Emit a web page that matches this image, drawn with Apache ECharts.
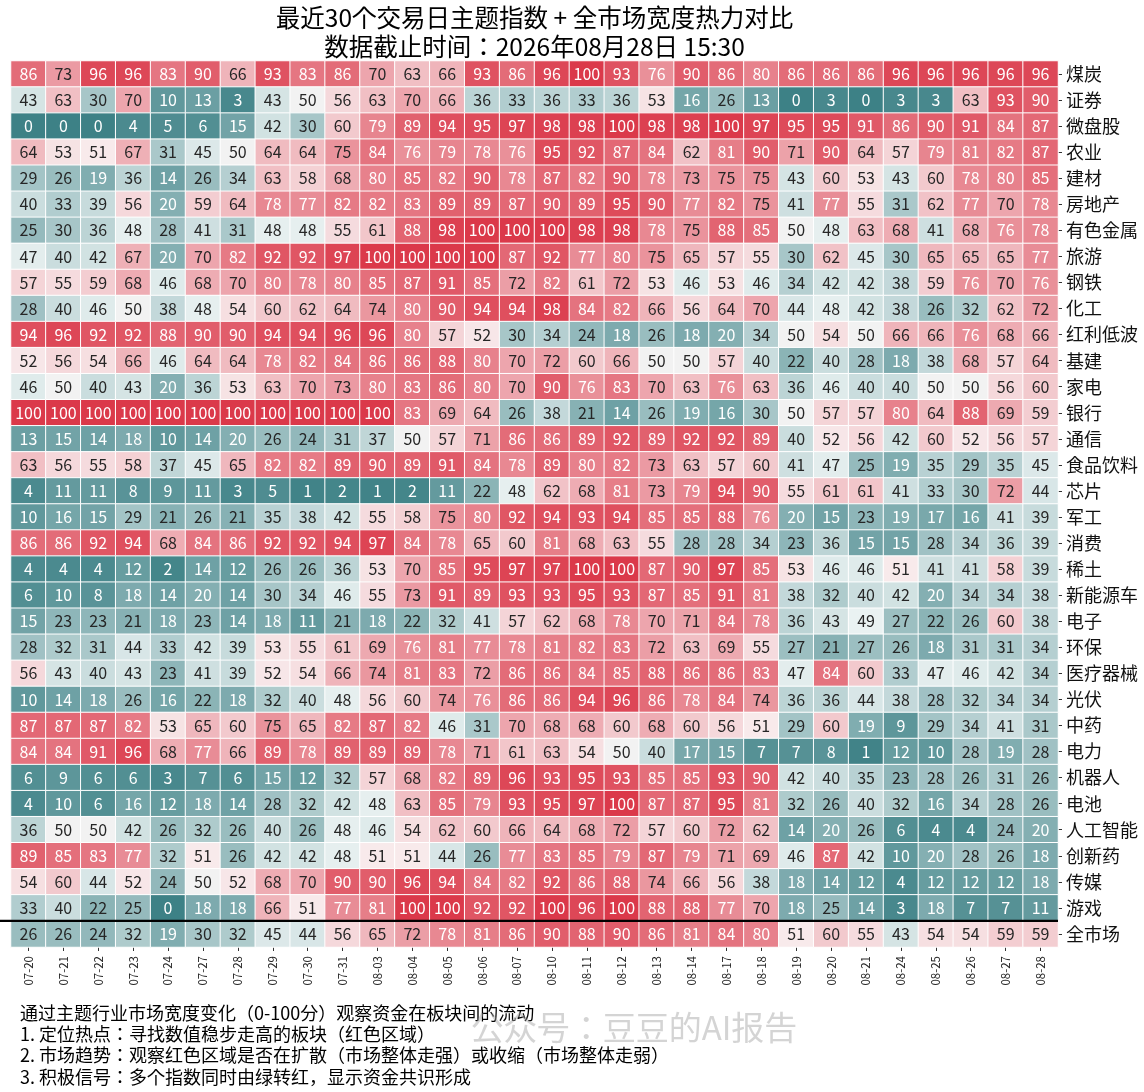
<!DOCTYPE html>
<html>
<head>
<meta charset="utf-8">
<script src="https://cdn.jsdelivr.net/npm/echarts@6/dist/echarts.min.js"></script>
<style>
html,body{margin:0;padding:0;background:#fff;}
#chart{width:1144px;height:1092px;}
</style>
</head>
<body>
<div id="chart"></div>
<script>
const dates = ['07-20','07-21','07-22','07-23','07-24','07-27','07-28','07-29','07-30','07-31','08-03','08-04','08-05','08-06','08-07','08-10','08-11','08-12','08-13','08-14','08-17','08-18','08-19','08-20','08-21','08-24','08-25','08-26','08-27','08-28'];
const sectors = ['煤炭','证券','微盘股','农业','建材','房地产','有色金属','旅游','钢铁','化工','红利低波','基建','家电','银行','通信','食品饮料','芯片','军工','消费','稀土','新能源车','电子','环保','医疗器械','光伏','中药','电力','机器人','电池','人工智能','创新药','传媒','游戏','全市场'];

const coal        = [86,73,96,96,83,90,66,93,83,86,70,63,66,93,86,96,100,93,76,90,86,80,86,86,86,96,96,96,96,96];
const securities  = [43,63,30,70,10,13,3,43,50,56,63,70,66,36,33,36,33,36,53,16,26,13,0,3,0,3,3,63,93,90];
const microcap    = [0,0,0,4,5,6,15,42,30,60,79,89,94,95,97,98,98,100,98,98,100,97,95,95,91,86,90,91,84,87];
const agriculture = [64,53,51,67,31,45,50,64,64,75,84,76,79,78,76,95,92,87,84,62,81,90,71,90,64,57,79,81,82,87];
const buildMat    = [29,26,19,36,14,26,34,63,58,68,80,85,82,90,78,87,82,90,78,73,75,75,43,60,53,43,60,78,80,85];
const realEstate  = [40,33,39,56,20,59,64,78,77,82,82,83,89,89,87,90,89,95,90,77,82,75,41,77,55,31,62,77,70,78];
const nonferrous  = [25,30,36,48,28,41,31,48,48,55,61,88,98,100,100,100,98,98,78,75,88,85,50,48,63,68,41,68,76,78];
const tourism     = [47,40,42,67,20,70,82,92,92,97,100,100,100,100,87,92,77,80,75,65,57,55,30,62,45,30,65,65,65,77];
const steel       = [57,55,59,68,46,68,70,80,78,80,85,87,91,85,72,82,61,72,53,46,53,46,34,42,42,38,59,76,70,76];
const chemical    = [28,40,46,50,38,48,54,60,62,64,74,80,90,94,94,98,84,82,66,56,64,70,44,48,42,38,26,32,62,72];
const dividendLV  = [94,96,92,92,88,90,90,94,94,96,96,80,57,52,30,34,24,18,26,18,20,34,50,54,50,66,66,76,68,66];
const infra       = [52,56,54,66,46,64,64,78,82,84,86,86,88,80,70,72,60,66,50,50,57,40,22,40,28,18,38,68,57,64];
const appliance   = [46,50,40,43,20,36,53,63,70,73,80,83,86,80,70,90,76,83,70,63,76,63,36,46,40,40,50,50,56,60];
const bank        = [100,100,100,100,100,100,100,100,100,100,100,83,69,64,26,38,21,14,26,19,16,30,50,57,57,80,64,88,69,59];
const telecom     = [13,15,14,18,10,14,20,26,24,31,37,50,57,71,86,86,89,92,89,92,92,89,40,52,56,42,60,52,56,57];
const foodBev     = [63,56,55,58,37,45,65,82,82,89,90,89,91,84,78,89,80,82,73,63,57,60,41,47,25,19,35,29,35,45];
const chip        = [4,11,11,8,9,11,3,5,1,2,1,2,11,22,48,62,68,81,73,79,94,90,55,61,61,41,33,30,72,44];
const military    = [10,16,15,29,21,26,21,35,38,42,55,58,75,80,92,94,93,94,85,85,88,76,20,15,23,19,17,16,41,39];
const consumer    = [86,86,92,94,68,84,86,92,92,94,97,84,78,65,60,81,68,63,55,28,28,34,23,36,15,15,28,34,36,39];
const rareEarth   = [4,4,4,12,2,14,12,26,26,36,53,70,85,95,97,97,100,100,87,90,97,85,53,46,46,51,41,41,58,39];
const nev         = [6,10,8,18,14,20,14,30,34,46,55,73,91,89,93,93,95,93,87,85,91,81,38,32,40,42,20,34,34,38];
const electronics = [15,23,23,21,18,23,14,18,11,21,18,22,32,41,57,62,68,78,70,71,84,78,36,43,49,27,22,26,60,38];
const envProt     = [28,32,31,44,33,42,39,53,55,61,69,76,81,77,78,81,82,83,72,63,69,55,27,21,27,26,18,31,31,34];
const medDevice   = [56,43,40,43,23,41,39,52,54,66,74,81,83,72,86,86,84,85,88,86,86,83,47,84,60,33,47,46,42,34];
const solar       = [10,14,18,26,16,22,18,32,40,48,56,60,74,76,86,86,94,96,86,78,84,74,36,36,44,38,28,32,34,34];
const tcm         = [87,87,87,82,53,65,60,75,65,82,87,82,46,31,70,68,68,60,68,60,56,51,29,60,19,9,29,34,41,31];
const power       = [84,84,91,96,68,77,66,89,78,89,89,89,78,71,61,63,54,50,40,17,15,7,7,8,1,12,10,28,19,28];
const robot       = [6,9,6,6,3,7,6,15,12,32,57,68,82,89,96,93,95,93,85,85,93,90,42,40,35,23,28,26,31,26];
const battery     = [4,10,6,16,12,18,14,28,32,42,48,63,85,79,93,95,97,100,87,87,95,81,32,26,40,32,16,34,28,26];
const ai          = [36,50,50,42,26,32,26,40,26,48,46,54,62,60,66,64,68,72,57,60,72,62,14,20,26,6,4,4,24,20];
const innovDrug   = [89,85,83,77,32,51,26,42,42,48,51,51,44,26,77,83,85,79,87,79,71,69,46,87,42,10,20,28,26,18];
const media       = [54,60,44,52,24,50,52,68,70,90,90,96,94,84,82,92,86,88,74,66,56,38,18,14,12,4,12,12,12,18];
const gaming      = [33,40,22,25,0,18,18,66,51,77,81,100,100,92,92,100,96,100,88,88,77,70,18,25,14,3,18,7,7,11];
const wholeMarket = [26,26,24,32,19,30,32,45,44,56,65,72,78,81,86,90,88,90,86,81,84,80,51,60,55,43,54,54,59,59];

const sectorValues = [coal,securities,microcap,agriculture,buildMat,realEstate,nonferrous,tourism,steel,chemical,dividendLV,infra,appliance,bank,telecom,foodBev,chip,military,consumer,rareEarth,nev,electronics,envProt,medDevice,solar,tcm,power,robot,battery,ai,innovDrug,media,gaming,wholeMarket];

const titleLines = ['最近30个交易日主题指数 + 全市场宽度热力对比','数据截止时间：2026年08月28日 15:30'];
const noteLines = [
  '通过主题行业市场宽度变化（0-100分）观察资金在板块间的流动',
  '1. 定位热点：寻找数值稳步走高的板块（红色区域）',
  '2. 市场趋势：观察红色区域是否在扩散（市场整体走强）或收缩（市场整体走弱）',
  '3. 积极信号：多个指数同时由绿转红，显示资金共识形成'
];
const watermark = '公众号：豆豆的AI报告';

// colour scale (diverging teal - light grey - red)
const NEG = [61,129,134], NEG_L = [236,243,243], MID = [242,242,242], POS_L = [248,236,237], POS = [219,57,74];
function lerp(a,b,t){return a.map((x,i)=>Math.round(x+(b[i]-x)*t));}
function colorAt(v){
  let c;
  if (v < 49.6) c = lerp(NEG, NEG_L, v/49.6);
  else if (v <= 50.4) c = MID;
  else c = lerp(POS_L, POS, (v-50.4)/49.6);
  return 'rgb(' + c.join(',') + ')';
}
const stops = [];
for (let i = 0; i <= 100; i++) stops.push(colorAt(i));

const FONT = '"Noto Sans CJK JP", "Noto Sans CJK SC", "Noto Sans", sans-serif';
const data = [];
sectorValues.forEach((row, yi) => {
  row.forEach((v, xi) => {
    const white = v >= 76 || v <= 20;
    data.push({value: [xi, yi, v], label: {color: white ? '#ffffff' : '#262626'}});
  });
});

const chart = echarts.init(document.getElementById('chart'));
const G = {left: 11, right: 86, top: 61, bottom: 145};
chart.setOption({
  backgroundColor: '#fff',
  animation: false,
  textStyle: {fontFamily: FONT},
  grid: G,
  xAxis: {
    type: 'category', data: dates, position: 'bottom',
    axisLine: {show: false},
    axisTick: {show: true, alignWithLabel: true, length: 4, lineStyle: {color: '#333'}},
    axisLabel: {rotate: 90, fontSize: 11.5, margin: 9, color: '#262626', fontFamily: FONT, interval: 0},
    splitArea: {show: false}, splitLine: {show: false}
  },
  yAxis: {
    type: 'category', data: sectors, inverse: true, position: 'right',
    axisLine: {show: false},
    axisTick: {show: true, alignWithLabel: true, length: 4, lineStyle: {color: '#333'}},
    axisLabel: {fontSize: 18, margin: 8, color: '#111', fontFamily: FONT, interval: 0},
    splitArea: {show: false}, splitLine: {show: false}
  },
  visualMap: {show: false, min: 0, max: 100, dimension: 2, calculable: false, inRange: {color: stops}},
  series: [{
    type: 'heatmap',
    data: data,
    label: {show: true, fontSize: 16, fontFamily: FONT, formatter: p => p.value[2]},
    itemStyle: {borderColor: '#ffffff', borderWidth: 1},
    emphasis: {disabled: true}
  }]
});

// overlay text + separator line
const W = chart.getWidth();
const gridLeft = G.left, gridRight = W - G.right;
const cx = (gridLeft + gridRight) / 2;
const yLast = chart.convertToPixel({yAxisIndex: 0}, sectors[sectors.length - 1]);
const yPrev = chart.convertToPixel({yAxisIndex: 0}, sectors[sectors.length - 2]);
const lineY = (yLast + yPrev) / 2;

const graphics = [];
titleLines.forEach((t, i) => {
  graphics.push({type: 'text', x: cx, y: 18 + i * 29, style: {text: t, fill: '#000', font: '24.5px ' + FONT, textAlign: 'center', textVerticalAlign: 'middle'}});
});
noteLines.forEach((t, i) => {
  graphics.push({type: 'text', x: 20, y: 1013 + i * 21.3, style: {text: t, fill: '#000', font: '18px ' + FONT, textAlign: 'left', textVerticalAlign: 'middle'}});
});
graphics.push({type: 'text', x: 634, y: 1027, z: 100, style: {text: watermark, fill: 'rgba(160,160,160,0.45)', font: '33px ' + FONT, textAlign: 'center', textVerticalAlign: 'middle'}});
graphics.push({type: 'line', z: 100, shape: {x1: 0, y1: lineY, x2: gridRight, y2: lineY}, style: {stroke: '#000', lineWidth: 2.2}});
chart.setOption({graphic: graphics});
</script>
</body>
</html>
